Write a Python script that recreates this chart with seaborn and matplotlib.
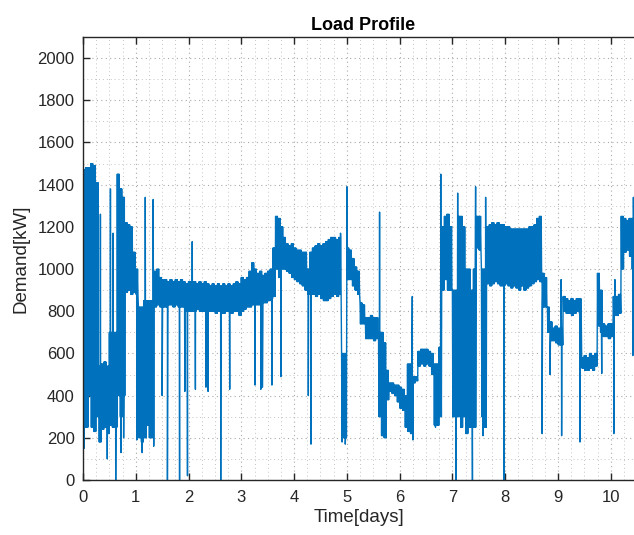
import matplotlib
matplotlib.use("Agg")
import matplotlib.pyplot as plt
from matplotlib.ticker import MultipleLocator
import numpy as np
import pandas as pd
import seaborn as sns

# ---- data ----
# dense noisy load: upper / lower edge of the band in each 0.05-day bin
bin_start = [round(0.05 * i, 2) for i in range(209)]

band_hi = [
    1470, 1480, 1480, 1500, 1490, 1410, 540, 550, 560, 540,       # 0.00-0.45
    700, 700, 700, 1450, 1380, 1340, 1220, 1210, 1200, 1080,      # 0.50-0.95
    1000, 820, 820, 850, 850, 850, 850, 990, 1000, 960,           # 1.00-1.45
    950, 950, 940, 950, 940, 950, 940, 950, 940, 930,             # 1.50-1.95
    940, 940, 940, 930, 940, 930, 940, 930, 920, 930,             # 2.00-2.45
    920, 930, 920, 930, 920, 930, 920, 930, 940, 930,             # 2.50-2.95
    960, 950, 960, 990, 1030, 1000, 980, 990, 970, 980,           # 3.00-3.45
    990, 1000, 1100, 1250, 1240, 1200, 1150, 1120, 1110, 1120,    # 3.50-3.95
    1100, 1090, 1090, 1080, 1080, 1000, 1080, 1100, 1110, 1120,   # 4.00-4.45
    1110, 1120, 1130, 1140, 1150, 1150, 1140, 1150, 600, 600,     # 4.50-4.95
    1100, 1090, 1050, 1010, 990, 840, 830, 770, 770, 780,         # 5.00-5.45
    770, 770, 700, 700, 650, 520, 460, 460, 450, 450,             # 5.50-5.95
    440, 430, 400, 550, 550, 490, 490, 610, 620, 620,             # 6.00-6.45
    620, 610, 600, 550, 550, 630, 1200, 1250, 1260, 1200,         # 6.50-6.95
    900, 900, 1250, 1250, 1200, 1000, 1000, 900, 1000, 1250,      # 7.00-7.45
    1250, 1000, 1000, 1200, 1210, 1220, 1210, 1220, 1210, 1210,   # 7.50-7.95
    1200, 1200, 1190, 1190, 1190, 1190, 1190, 1190, 1190, 1200,   # 8.00-8.45
    1200, 1210, 1240, 1250, 980, 960, 820, 750, 720, 730,         # 8.50-8.95
    720, 720, 870, 860, 850, 860, 850, 860, 860, 580,             # 9.00-9.45
    590, 580, 600, 590, 600, 980, 900, 740, 730, 740,             # 9.50-9.95
    740, 870, 870, 880, 1250, 1240, 1230, 1240, 1240,             # 10.00-10.40
]

band_lo = [
    250, 250, 400, 250, 230, 300, 180, 240, 250, 220,             # 0.00-0.45
    260, 250, 250, 400, 300, 400, 890, 900, 880, 890,             # 0.50-0.95
    880, 200, 180, 200, 260, 200, 200, 820, 830, 820,             # 1.00-1.45
    820, 820, 830, 830, 820, 830, 820, 820, 820, 800,             # 1.50-1.95
    800, 800, 800, 810, 800, 800, 800, 800, 800, 800,             # 2.00-2.45
    790, 800, 790, 790, 800, 800, 790, 800, 800, 780,             # 2.50-2.95
    800, 810, 820, 820, 830, 830, 830, 830, 840, 840,             # 3.00-3.45
    850, 860, 870, 1000, 960, 1000, 1000, 990, 980, 960,          # 3.50-3.95
    950, 940, 930, 920, 900, 880, 880, 880, 870, 880,             # 4.00-4.45
    860, 850, 850, 860, 870, 880, 870, 880, 200, 200,             # 4.50-4.95
    950, 950, 920, 900, 880, 740, 740, 670, 670, 670,             # 5.00-5.45
    660, 670, 300, 210, 200, 380, 420, 410, 400, 370,             # 5.50-5.95
    340, 330, 250, 230, 220, 460, 470, 540, 550, 540,             # 6.00-6.45
    550, 540, 500, 260, 260, 300, 900, 950, 900, 900,             # 6.50-6.95
    300, 300, 300, 250, 300, 220, 250, 250, 250, 1100,            # 7.00-7.45
    1090, 300, 250, 930, 920, 930, 940, 930, 920, 920,            # 7.50-7.95
    930, 920, 910, 920, 910, 900, 920, 900, 910, 920,             # 8.00-8.45
    930, 940, 950, 940, 820, 820, 700, 660, 660, 650,             # 8.50-8.95
    640, 640, 800, 790, 790, 780, 790, 800, 790, 530,             # 9.00-9.45
    520, 520, 530, 520, 540, 730, 700, 680, 680, 670,             # 9.50-9.95
    680, 780, 780, 790, 1000, 1080, 1090, 1060, 1000,             # 10.00-10.40
]

# single narrow excursions (time in days, demand in kW)
spike_t = [0.02, 0.33, 0.46, 0.52, 0.57, 0.62, 0.72, 0.77, 1.02, 1.12,
           1.18, 1.33, 1.34, 1.50, 1.60, 1.83, 1.93, 1.98, 2.07, 2.13,
           2.33, 2.37, 2.61, 2.78, 3.26, 3.37, 3.40, 3.58, 3.75, 4.27,
           4.32, 4.88, 4.91, 4.97, 5.00, 5.62, 6.24, 6.25, 6.68, 6.78,
           7.07, 7.10, 7.38, 7.44, 7.58, 7.63, 7.98, 8.70, 8.85, 9.06,
           9.07, 9.42, 9.83, 10.06, 10.08, 10.42, 10.43]
spike_v = [150, 1260, 100, 1380, 1170, 0, 130, 200, 190, 130,
           1340, 1330, 160, 400, 0, 0, 420, 20, 1130, 430,
           440, 420, 0, 430, 450, 430, 440, 450, 490, 400,
           170, 1170, 180, 170, 1390, 1270, 870, 190, 250, 1450,
           0, 1360, 0, 1390, 210, 1340, 0, 220, 500, 950,
           210, 180, 505, 220, 950, 590, 1340]

x_ticks = list(range(0, 11))
y_ticks = list(range(0, 2001, 200))

# one continuous trace: the band is drawn as a tight zig-zag between its
# upper and lower edge, the spikes are inserted at their own times
n_swing = 6
pts = []
for t, h, l in zip(bin_start, band_hi, band_lo):
    for k in range(n_swing):
        pts.append((t + 0.05 * k / n_swing, h if k % 2 == 0 else l))
pts += list(zip(spike_t, spike_v))
pts.sort(key=lambda p: p[0])
df = pd.DataFrame(pts, columns=["Time", "Demand"])

sns.set_style("white")
plt.rcParams["font.family"] = ["Liberation Sans", "DejaVu Sans"]

fig = plt.figure(figsize=(6.34, 5.35), dpi=100)
ax = fig.add_axes([83 / 634, 55 / 535, 551 / 634, 443 / 535])

sns.lineplot(data=df, x="Time", y="Demand", sort=False, estimator=None,
             color="#0072BD", linewidth=1.0, ax=ax)

ax.set_xlim(0, 551 / 52.77)
ax.set_ylim(0, 2100)
ax.set_xticks(x_ticks)
ax.set_yticks(y_ticks)
ax.xaxis.set_minor_locator(MultipleLocator(0.25))
ax.yaxis.set_minor_locator(MultipleLocator(100))

ax.grid(which="major", linestyle=(0, (1, 3)), color="#a8a8a8", linewidth=0.8)
ax.grid(which="minor", linestyle=(0, (1, 3)), color="#c4c4c4", linewidth=0.7)
ax.set_axisbelow(True)

ax.tick_params(which="major", direction="in", length=5, width=1.0,
               color="#262626", labelsize=12, labelcolor="#262626",
               top=True, bottom=True, left=True, right=False)
ax.tick_params(which="minor", length=0)
ax.tick_params(axis="x", pad=7)
ax.tick_params(axis="y", pad=6)

for side in ["left", "bottom", "top"]:
    ax.spines[side].set_visible(True)
    ax.spines[side].set_color("#262626")
    ax.spines[side].set_linewidth(1.0)
ax.spines["right"].set_visible(False)

ax.set_xlabel("Time[days]", fontsize=13.5, color="#262626", labelpad=3)
ax.set_ylabel("Demand[kW]", fontsize=13.5, color="#262626", labelpad=6)
ax.set_title("Load Profile", fontsize=13, fontweight="bold", color="#000000",
             x=0.508, pad=5)

fig.savefig("out.png", dpi=100)
